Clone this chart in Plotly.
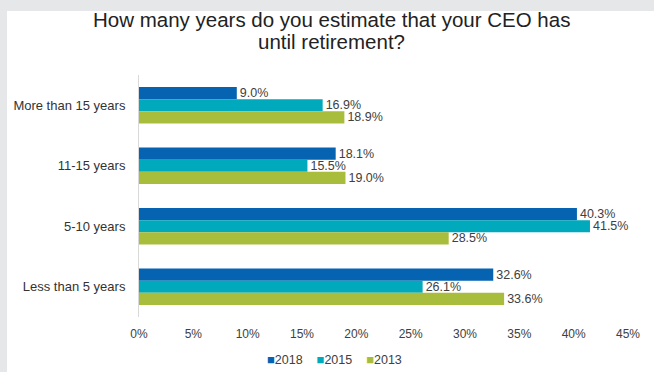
import plotly.graph_objects as go

categories = ["More than 15 years", "11-15 years", "5-10 years", "Less than 5 years"]
series_names = ["2018", "2015", "2013"]
values_2018 = [9.0, 18.1, 40.3, 32.6]
values_2015 = [16.9, 15.5, 41.5, 26.1]
values_2013 = [18.9, 19.0, 28.5, 33.6]
colors = ["#0563b1", "#00a9bb", "#a9bd3d"]
tick_vals = [0, 5, 10, 15, 20, 25, 30, 35, 40, 45]
tick_text = [f"{v}%" for v in tick_vals]
title_lines = ["How many years do you estimate that your CEO has", "until retirement?"]

W, H = 654, 372
L, R, T, B = 139, 26, 75, 55
pw, ph = W - L - R, H - T - B

def px_x(x):
    return (x - L) / pw

def px_y(y):
    return (H - B - y) / ph

fig = go.Figure()
for name, vals, col in zip(series_names, [values_2018, values_2015, values_2013], colors):
    fig.add_trace(go.Bar(
        y=categories, x=vals, name=name, orientation="h",
        marker=dict(color=col, line=dict(width=0)),
        text=[f"{v:.1f}%" for v in vals], textposition="outside",
        constraintext="none",
        textfont=dict(size=12.5, color="#404040"), cliponaxis=False,
    ))

# compact legend (square swatch directly followed by label), built from the series
legend_html = "&nbsp;&nbsp;&nbsp;&nbsp;".join(
    f"<span style='color:{c};font-size:13px'>■</span>{n}" for n, c in zip(series_names, colors)
)

gray = "#e6e7e9"
fig.update_layout(
    width=W, height=H,
    margin=dict(l=L, r=R, t=T, b=B, autoexpand=False),
    barmode="group", bargap=0.4, bargroupgap=0,
    paper_bgcolor="white", plot_bgcolor="white",
    font=dict(family="Liberation Sans, Arial, sans-serif", color="#404040", size=12),
    showlegend=False,
    xaxis=dict(range=[0, 45], tickvals=tick_vals, ticktext=tick_text, showgrid=False,
               zeroline=False, showline=False, ticks="outside", ticklen=6, tickcolor="white",
               tickfont=dict(size=12, color="#404040"), fixedrange=True),
    yaxis=dict(type="category", autorange="reversed", showgrid=False, showline=True,
               linecolor="#d9d9d9", linewidth=1, ticks="", ticklabelstandoff=10,
               tickfont=dict(size=13, color="#333333")),
    shapes=[
        dict(type="rect", xref="paper", yref="paper",
             x0=px_x(-5), x1=px_x(W + 5), y0=px_y(11), y1=px_y(-5),
             fillcolor=gray, line=dict(width=0), layer="below"),
        dict(type="rect", xref="paper", yref="paper",
             x0=px_x(-5), x1=px_x(7), y0=px_y(H + 5), y1=px_y(11),
             fillcolor=gray, line=dict(width=0), layer="below"),
    ],
    annotations=[dict(text=t, xref="paper", yref="paper", x=px_x(331), y=px_y(yc),
                      xanchor="center", yanchor="middle", showarrow=False,
                      font=dict(size=20.5, color="#222222"))
                 for t, yc in zip(title_lines, [20, 42])]
    + [dict(text=legend_html, xref="paper", yref="paper", x=px_x(334), y=px_y(359),
            xanchor="center", yanchor="middle", showarrow=False,
            font=dict(size=12.5, color="#404040"))],
)

fig.write_html("out.html")
